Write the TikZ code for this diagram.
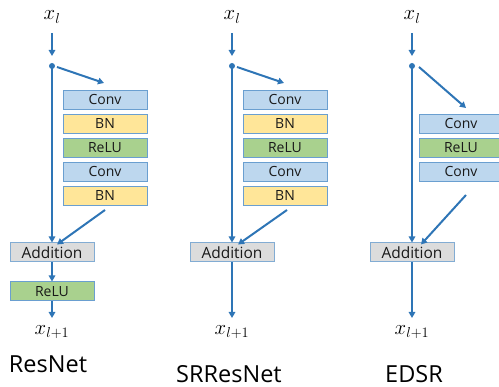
\documentclass[tikz,border=0pt]{standalone}
\usepackage{fontspec}
\setmainfont{Open Sans}
\usetikzlibrary{arrows.meta}
\definecolor{ln}{HTML}{2E75B6}
\definecolor{bord}{HTML}{6A9FD0}
\definecolor{cblue}{HTML}{BDD7EE}
\definecolor{cyel}{HTML}{FFE699}
\definecolor{cgreen}{HTML}{A9D18E}
\definecolor{cgray}{HTML}{DCDCDC}
\tikzset{
  blk/.style={draw=bord, line width=1pt, minimum width=84pt, minimum height=19pt, inner sep=0pt, font=\fontsize{14}{14}\selectfont, text=black!90},
  conv/.style={blk, fill=cblue},
  bn/.style={blk, fill=cyel},
  relu/.style={blk, fill=cgreen},
  add/.style={blk, fill=cgray, draw=ln!60, font=\fontsize{15.5}{15.5}\selectfont},
  arr/.style={draw=ln, line width=2pt, -{Triangle[length=6pt,width=6.5pt]}},
  dotn/.style={circle, fill=ln, inner sep=0pt, minimum size=6pt},
  lbl/.style={font=\fontsize{20}{20}\selectfont},
  title/.style={font=\fontsize{23.5}{23.5}\selectfont, text=black}
}
\begin{document}
\begin{tikzpicture}[x=1pt,y=-1pt]
\useasboundingbox (0,0) rectangle (499,387);
% ---------- ResNet ----------
\node[lbl] (r_in) at (52,17) {$x_l$};
\node[dotn] (r_dot) at (52,66) {};
\node[conv] (r_c1) at (105,100) {Conv};
\node[bn] (r_b1) at (105,124) {BN};
\node[relu] (r_r1) at (105,148) {ReLU};
\node[conv] (r_c2) at (105,172) {Conv};
\node[bn] (r_b2) at (105,196) {BN};
\node[add] (r_add) at (52,252.5) {Addition};
\node[lbl] (r_out) at (52,332) {$x_{l+1}$};
\node[relu] (r_relu) at (52,291.5) {ReLU};
\node[title] (r_t) at (48,364) {ResNet};
\coordinate (r_br) at (104,83);
\coordinate (r_rt) at (105,210);
\coordinate (r_a) at (52,33);
\coordinate (r_b) at (52,56);
\coordinate (r_c) at (52,318);
\draw[arr] (r_a) -- (r_b);
\draw[arr] (r_dot.center) -- (r_add.north);
\draw[arr] ([xshift=5pt,yshift=-1pt]r_dot.center) -- (r_br);
\draw[arr] (r_rt) -- ([xshift=5pt,yshift=-2pt]r_add.north);
\draw[arr] (r_add.south) -- (r_relu.north);
\draw[arr] (r_relu.south) -- (r_c);
% ---------- SRResNet ----------
\node[lbl] (s_in) at (232,17) {$x_l$};
\node[dotn] (s_dot) at (232,66) {};
\node[conv] (s_c1) at (285,100) {Conv};
\node[bn] (s_b1) at (285,124) {BN};
\node[relu] (s_r1) at (285,148) {ReLU};
\node[conv] (s_c2) at (285,172) {Conv};
\node[bn] (s_b2) at (285,196) {BN};
\node[add] (s_add) at (232,252.5) {Addition};
\node[lbl] (s_out) at (232,332) {$x_{l+1}$};
\node[title] (s_t) at (229,374) {SRResNet};
\coordinate (s_br) at (284,83);
\coordinate (s_rt) at (287,210);
\coordinate (s_a) at (232,33);
\coordinate (s_b) at (232,56);
\coordinate (s_c) at (232,318);
\draw[arr] (s_a) -- (s_b);
\draw[arr] (s_dot.center) -- (s_add.north);
\draw[arr] ([xshift=5pt,yshift=-1pt]s_dot.center) -- (s_br);
\draw[arr] (s_rt) -- ([xshift=6pt,yshift=-2pt]s_add.north);
\draw[arr] (s_add.south) -- (s_c);
% ---------- EDSR ----------
\node[lbl] (e_in) at (412,17) {$x_l$};
\node[dotn] (e_dot) at (412,66) {};
\node[conv] (e_c1) at (461,124) {Conv};
\node[relu] (e_r1) at (461,148) {ReLU};
\node[conv] (e_c2) at (461,172) {Conv};
\node[add] (e_add) at (412,252.5) {Addition};
\node[lbl] (e_out) at (412,332) {$x_{l+1}$};
\node[title] (e_t) at (414,374) {EDSR};
\coordinate (e_br) at (466,108);
\coordinate (e_rt) at (466,195);
\coordinate (e_a) at (412,33);
\coordinate (e_b) at (412,56);
\coordinate (e_c) at (412,318);
\draw[arr] (e_a) -- (e_b);
\draw[arr] (e_dot.center) -- (e_add.north);
\draw[arr] ([xshift=7pt,yshift=-1pt]e_dot.center) -- (e_br);
\draw[arr] (e_rt) -- ([xshift=9pt,yshift=-2pt]e_add.north);
\draw[arr] (e_add.south) -- (e_c);
\end{tikzpicture}
\end{document}
